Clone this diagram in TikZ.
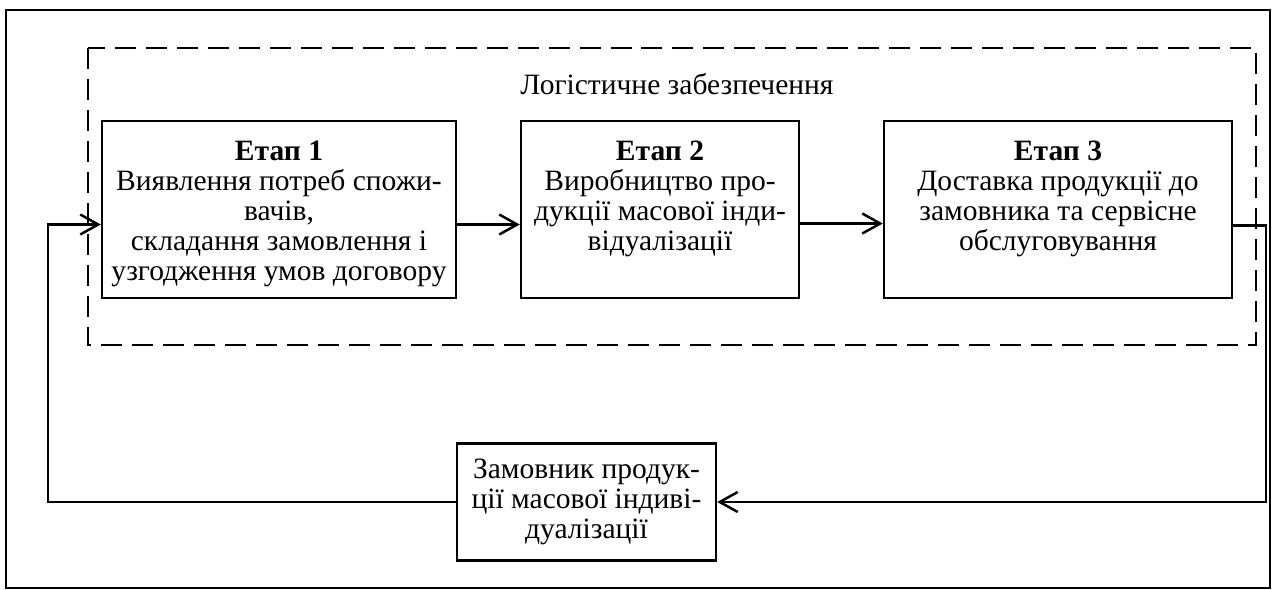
\documentclass[tikz,border=0pt]{standalone}
\usepackage{fontspec}
\setmainfont{Liberation Serif}
\usetikzlibrary{arrows.meta,positioning}

\tikzset{
  frame/.style={line width=1.4pt},
  zone/.style={line width=1.4pt, dash pattern=on 0.42cm off 0.2cm},
  stage/.style={draw, line width=1.4pt, minimum height=3.54cm, inner sep=0pt},
  stagetxt/.style={align=center, inner sep=0pt},
  arr/.style={line width=1.4pt, -{Straight Barb[length=0.36cm,width=0.4cm,line width=1.4pt]}}
}

\begin{document}
\begin{tikzpicture}[x=0.02cm, y=-0.02cm, font=\fontsize{16.8}{17.1}\selectfont]
  \useasboundingbox (0,0) rectangle (1275,589);
  \draw[frame] (6,10) rectangle (1270,588);
  \draw[zone] (88,48) rectangle (1256,345);
  \node (lz) at (677,84) {Логістичне забезпечення};

  \node[stage, minimum width=7.08cm] (e1) at (279,209.5) {};
  \node[stage, minimum width=5.56cm] (e2) at (660,209.5) {};
  \node[stage, minimum width=6.96cm] (e3) at (1058,209.5) {};
  \node[stagetxt, below=0.42cm of e1.north] (e1t) {\textbf{Етап 1}\\Виявлення потреб спожи-\\вачів,\\складання замовлення і\\узгодження умов договору};
  \node[stagetxt, below=0.42cm of e2.north] (e2t) {\textbf{Етап 2}\\Виробництво про-\\дукції масової інди-\\відуалізації};
  \node[stagetxt, below=0.42cm of e3.north] (e3t) {\textbf{Етап 3}\\Доставка продукції до\\замовника та сервісне\\обслуговування};
  \node[stage, minimum width=5.18cm, minimum height=2.34cm, align=center] (e4) at (586.5,502) {Замовник продук-\\ції масової індиві-\\дуалізації};

  % connectors
  \coordinate (in1) at ([yshift=-0.3cm]e1.west);
  \coordinate (lt) at (48,0);
  \coordinate (rt) at (1266,0);
  \draw[arr] ([yshift=-0.3cm]e1.east) -- ([yshift=-0.3cm]e2.west);
  \draw[arr] ([yshift=-0.28cm]e2.east) -- ([yshift=-0.28cm]e3.west);
  \draw[arr] ([yshift=-0.32cm]e3.east) -| (e4.east -| rt) -- (e4.east);
  \draw[arr] (e4.west) -| (in1 -| lt) -- (in1);
\end{tikzpicture}
\end{document}
